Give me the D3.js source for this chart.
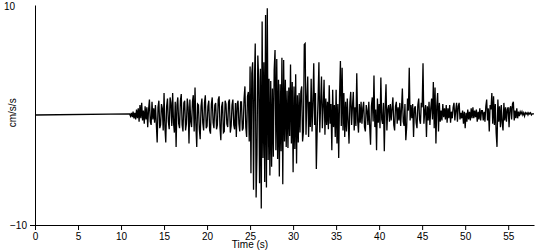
<!DOCTYPE html>
<html>
<head>
<meta charset="utf-8">
<script src="https://cdn.jsdelivr.net/npm/d3@7"></script>
<style>
  html, body { margin: 0; padding: 0; background: #fff; }
  svg { display: block; }
  text { font-family: Arial, "Liberation Sans", sans-serif; fill: #000; }
</style>
</head>
<body>
<div id="container"></div>
<script>
// ************************************************************************************** //
// Data

var xTicks = [0, 5, 10, 15, 20, 25, 30, 35, 40, 45, 50, 55];
var yTicks = [-10, 10];
var xLabel = 'Time (s)', yLabel = 'cm/s/s';

// record is flat (0) from t = 0 until the onset, then sampled every dt seconds
var preEvent = [[0, 0]];
var onset = 11.0, dt = 0.1;

// acceleration (cm/s/s), one row per second, starting at the onset
var accel = [
  0.1, -0.1, 0.2, -0.2, 0.3, -0.3, 0.2, -0.4, 0.5, -0.3,     // 11
  0.6, -0.6, 0.9, -0.3, 1.1, -0.5, 0.4, -0.8, 0.8, -0.4,     // 12
  0.7, -1.1, 0.5, 1.4, -0.6, -0.9, 1.2, -0.4, 0.6, -0.7,     // 13
  0.9, -0.8, -2.5, 0.7, 1.3, -1.2, -0.9, 1.0, 0.6, -1.4,     // 14
  2.0, -1.1, -2.5, 0.8, 1.5, -0.6, -1.3, 1.6, 1.1, -1.0,     // 15
  2.0, -0.7, -1.6, 1.2, -2.9, 0.9, 1.6, -0.8, -1.2, 1.3,     // 16
  1.9, -0.9, -1.5, 1.1, 1.3, -1.4, -0.8, 1.5, 0.7, -2.6,     // 17
  1.4, -0.6, -1.1, 1.2, 1.8, -1.5, 2.5, -0.9, -2.9, 1.0,     // 18
  0.9, -1.3, -2.2, 0.8, 1.5, -0.7, -1.4, 1.1, 1.8, -1.2,     // 19
  -1.0, 0.8, 1.3, -1.4, -1.7, 1.0, 1.6, -0.7, -1.2, 0.9,     // 20
  1.1, -1.3, -0.9, 1.4, 1.7, -1.1, -2.3, 0.8, 1.2, -1.6,     // 21
  -1.5, 1.3, 1.0, -0.8, -1.1, 1.2, 1.4, -1.6, -1.0, 0.9,     // 22
  1.4, -0.9, -1.3, 1.1, -2.0, 1.0, 1.3, -0.8, -1.5, 1.2,     // 23
  1.2, -1.4, -1.2, 1.5, 2.6, -1.1, -2.0, 1.7, 2.1, -2.4,     // 24
  4.4, -5.3, 3.8, 4.8, -6.8, 2.9, 6.5, -7.5, -3.6, 5.4,      // 25
  3.2, -6.2, 4.2, -8.5, 8.5, -3.9, 4.8, -6.1, 9.1, -6.6,     // 26
  9.7, -4.1, 3.3, -5.5, 3.1, -4.7, 2.4, -3.8, 4.1, 5.9,      // 27
  -3.2, 5.1, -4.0, 3.2, -5.6, 2.8, -3.3, 5.2, -6.3, 5.0,     // 28
  -2.4, 3.2, -2.9, 2.2, -3.0, 2.5, -1.9, 4.6, -2.6, 3.0,     // 29
  -5.2, 2.6, -3.1, 3.7, -4.4, 1.8, -2.5, 2.0, -1.6, 2.1,     // 30
  2.6, -2.4, -1.5, 6.4, 6.5, -1.8, 1.5, 3.5, -2.0, 1.2,      // 31
  -1.1, 3.3, -1.5, 1.0, 4.7, -0.9, 2.0, -4.9, -1.3, 1.4,     // 32
  4.8, -1.6, 1.1, 3.5, -1.2, 0.8, 3.2, -1.8, 1.5, -0.9,      // 33
  1.2, -1.3, 2.7, -0.8, 1.0, -3.2, 2.3, -1.1, 0.9, -2.0,     // 34
  2.3, -2.6, 1.0, -3.9, 1.8, 4.9, -1.0, 4.3, -1.4, 2.0,      // 35
  -2.0, 1.2, -1.5, 1.5, -0.6, -2.6, 1.1, 2.1, -0.9, 0.8,     // 36
  2.1, -1.4, 0.7, -1.0, 3.8, -0.5, -1.6, 1.0, -0.7, 1.2,     // 37
  -0.8, 0.6, 1.2, -1.1, -1.5, 0.9, 0.4, -0.9, 1.2, -1.0,     // 38
  -2.7, 0.8, 1.6, -0.6, 3.6, -1.1, 0.5, -3.2, 1.5, -0.7,     // 39
  1.0, -1.2, 3.4, -0.4, -0.8, 1.1, -3.3, 0.7, 2.8, -1.4,     // 40
  0.5, 0.9, -0.6, 1.0, -0.5, 0.6, 1.6, -0.9, -1.4, 0.8,      // 41
  1.2, -0.8, 0.7, -0.5, 1.1, -1.0, 0.6, 2.4, -0.6, -1.0,     // 42
  1.0, -2.3, -1.1, 1.5, 0.4, 4.3, -0.5, 0.9, -0.3, 1.0,      // 43
  -2.0, 0.6, 0.8, -0.7, -1.2, 0.9, 1.5, -0.4, -0.8, 1.1,     // 44
  0.7, 4.7, -0.8, 0.3, 0.9, -2.0, 0.8, -0.5, 1.2, -0.9,      // 45
  0.6, 1.5, -0.4, 3.0, -1.2, 2.5, -2.6, 0.8, 2.0, -1.5,      // 46
  1.1, -0.6, 0.4, -0.5, 1.0, -0.2, 0.6, -0.4, 0.9, -0.7,     // 47
  0.6, -0.3, 0.9, -0.7, 0.3, -0.3, 0.7, 1.1, -0.5, 0.4,      // 48
  1.1, -0.6, 0.8, 1.1, -0.4, 0.2, -0.3, 0.4, -0.8, 0.3,      // 49
  -1.2, 0.2, -0.6, 0.5, -0.4, 0.3, -0.5, 0.6, -0.3, 0.7,     // 50
  -0.3, 0.4, -0.2, 0.5, -0.6, 0.3, -0.4, 0.6, -0.5, 0.4,     // 51
  0.4, -0.5, 0.3, -0.6, 0.8, 1.4, -0.5, 0.6, -1.5, 0.9,      // 52
  0.5, 2.0, -0.8, 1.7, -0.9, 1.0, -1.6, -2.9, 1.4, -0.6,     // 53
  0.8, -1.1, 0.9, -0.7, -1.4, 1.1, -0.5, 0.7, -0.6, 0.5,     // 54
  0.7, -1.1, 0.6, 0.8, -0.4, 1.0, 1.2, -0.5, 0.4, -0.3,      // 55
  0.6, -0.3, 0.3, -0.1, 0.3, 0.1, 0.3, 0.0, 0.2, -0.1,       // 56
  0.2, 0.1, 0.2, 0.0, 0.2, 0.1, 0.2, 0.0, 0.1, 0.1,          // 57
  0.1                                                        // 58
];

// ************************************************************************************** //
// Create

var canvas_width = 550, canvas_height = 250;
var svg = d3.select('#container').append('svg')
  .attr('width', canvas_width).attr('height', canvas_height);

var xScale = d3.scaleLinear().domain([0, 58]).range([35, 534]);
var yScale = d3.scaleLinear().domain([-10, 10]).range([225, 5]);

var points = preEvent.concat(accel.map((v, i) => [onset + i*dt, v]));

var lineGen = d3.line().x(d => xScale(d[0])).y(d => yScale(d[1]));

svg.append('path')
  .attr('d', lineGen(points))
  .attr('fill', 'none')
  .attr('stroke', '#000')
  .attr('stroke-width', 1.3);

// x axis
var xAxis = svg.append('g').attr('transform', 'translate(0,' + yScale(-10) + ')')
  .call(d3.axisBottom(xScale).tickValues(xTicks).tickSize(5).tickSizeOuter(0).tickPadding(3));
xAxis.selectAll('text').attr('font-size', 10).attr('font-family', 'Arial, "Liberation Sans", sans-serif');

// y axis
var yAxis = svg.append('g').attr('transform', 'translate(' + xScale(0) + ',0)')
  .call(d3.axisLeft(yScale).tickValues(yTicks).tickSize(5).tickSizeOuter(0).tickPadding(3));
yAxis.selectAll('text').attr('font-size', 10).attr('font-family', 'Arial, "Liberation Sans", sans-serif');
yAxis.selectAll('.tick').filter(d => d === 10).select('line').remove();
yAxis.selectAll('.tick').filter(d => d === 10).select('text').attr('x', -20).attr('dy', '0.45em');

svg.selectAll('.domain, .tick line').attr('stroke', '#000');

// axis titles
svg.append('text').attr('x', 250).attr('y', 247.5)
  .attr('text-anchor', 'middle').attr('font-size', 10).text(xLabel);
svg.append('text').attr('transform', 'translate(16,' + yScale(0.2) + ') rotate(-90)')
  .attr('text-anchor', 'middle').attr('font-size', 10).text(yLabel);
</script>
</body>
</html>
